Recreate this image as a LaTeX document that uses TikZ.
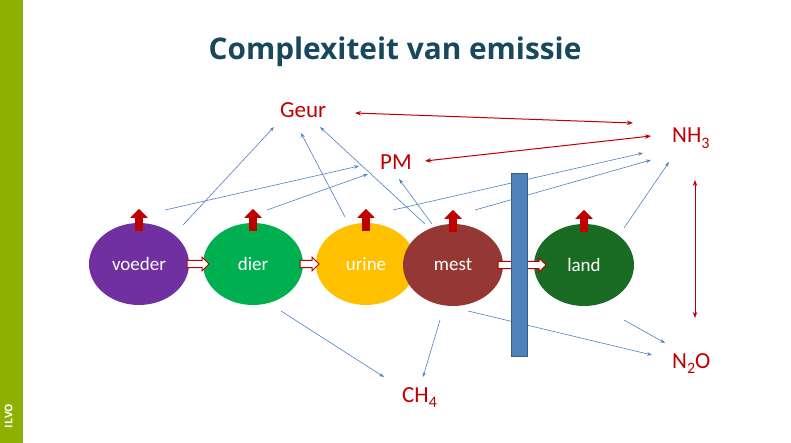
\documentclass[tikz,border=0pt]{standalone}
\usepackage{fontspec}
\setmainfont{Carlito}
\newfontfamily\titlefont{Open Sans}
\usetikzlibrary{arrows.meta,calc,shapes.geometric}
\definecolor{ilvogreen}{RGB}{141,177,0}
\definecolor{titleblue}{RGB}{23,72,94}
\definecolor{emred}{RGB}{192,0,0}
\definecolor{linkblue}{RGB}{79,129,189}
\definecolor{cvoeder}{RGB}{112,48,160}
\definecolor{cdier}{RGB}{0,176,80}
\definecolor{curine}{RGB}{255,192,0}
\definecolor{cmest}{RGB}{149,55,53}
\definecolor{cland}{RGB}{26,107,36}
\definecolor{barblue}{RGB}{79,129,189}
\definecolor{barborder}{RGB}{56,93,138}
\newcommand\blockarr[2]{%
  \draw[emred, fill=white, line width=1pt]
    ($#1+(0,-3.5)$) -- ($#2+(-7,-3.5)$) -- ($#2+(-7,-7)$) -- #2
    -- ($#2+(-7,7)$) -- ($#2+(-7,3.5)$) -- ($#1+(0,3.5)$) -- cycle;}
\newcommand\chemsub[1]{\raisebox{-5.5pt}{\fontsize{16}{18}\selectfont #1}}
\begin{document}
\begin{tikzpicture}[x=1pt,y=-1pt,
  stage/.style={ellipse, minimum width=100pt, minimum height=82pt, inner sep=0pt,
    text=white, font=\fontsize{19}{22}\selectfont},
  gas/.style={text=emred, font=\fontsize{23}{27}\selectfont, inner sep=0pt, anchor=base west},
  link/.style={draw=linkblue, line width=0.6pt, -{Stealth[length=5pt,width=3.5pt]}},
  pair/.style={draw=emred, line width=1pt, {Stealth[length=6pt,width=4.5pt]}-{Stealth[length=6pt,width=4.5pt]}},
  uparr/.style={draw=emred, line width=8pt, -{Triangle[length=9pt,width=17pt]}},
]
\useasboundingbox (0,0) rectangle (791,443);
\fill[white] (0,0) rectangle (791,443);
\fill[ilvogreen] (0,0) rectangle (23,443);
\node[rotate=90, text=white, font=\titlefont\bfseries\fontsize{10.5}{12}\selectfont] (ilvo) at (8.5,416) {ILVO};

\node[text=titleblue, font=\titlefont\bfseries\fontsize{29.8}{34}\selectfont] (title) at (395,52) {Complexiteit van emissie};

% labels
\node[gas] (geur) at (280,118) {Geur};
\node[gas] (pm) at (380,170) {PM};
\node[gas] (nh3) at (672,143) {NH\chemsub{3}};
\node[gas] (n2o) at (672,368) {N\chemsub{2}O};
\node[gas] (ch4) at (402,402) {CH\chemsub{4}};

% stages
\node[stage, fill=cvoeder] (voeder) at (139,264) {voeder};
\node[stage, fill=cdier] (dier) at (253,264) {dier};
\node[stage, fill=curine] (urine) at (366,264) {urine};
\node[stage, fill=cmest] (mest) at (453,265) {mest};
\node[stage, fill=cland] (land) at (584,265) {land};

% up arrows
\foreach \s in {voeder,dier,urine,mest,land}
  \draw[uparr] ($(\s.north)+(0,8)$) -- ++(0,-22);

% block arrows
\coordinate (a1s) at (187,264); \coordinate (a1e) at (209,264);
\coordinate (a2s) at (300,264); \coordinate (a2e) at (319,264);
\coordinate (a3s) at (498,265); \coordinate (a3e) at (546,265);
\blockarr{(a1s)}{(a1e)}
\blockarr{(a2s)}{(a2e)}
\blockarr{(a3s)}{(a3e)}

% blue links
\coordinate (l1s) at (183,225);  \coordinate (l1e) at (274,127);
\coordinate (l2s) at (165,210);  \coordinate (l2e) at (359,166);
\coordinate (l3s) at (267,210);  \coordinate (l3e) at (368,174);
\coordinate (l4s) at (345,217);  \coordinate (l4e) at (301,133);
\coordinate (l5s) at (425,224);  \coordinate (l5e) at (320,127);
\coordinate (l6s) at (432,224);  \coordinate (l6e) at (399,179);
\coordinate (l7s) at (393,210);  \coordinate (l7e) at (643,153);
\coordinate (l8s) at (475,210);  \coordinate (l8e) at (651,160);
\coordinate (l9s) at (624,228);  \coordinate (l9e) at (669,162);
\coordinate (l10s) at (281,311); \coordinate (l10e) at (384,377);
\coordinate (l11s) at (440,320); \coordinate (l11e) at (423,377);
\coordinate (l12s) at (468,311); \coordinate (l12e) at (652,355);
\coordinate (l13s) at (624,320); \coordinate (l13e) at (665,343);
\foreach \i in {1,...,13}
  \draw[link] (l\i s) -- (l\i e);

% barrier
\node[draw=barborder, fill=barblue, line width=0.8pt, minimum width=16pt, minimum height=183pt, inner sep=0pt] (barrier) at (519,264.5) {};

% red pair arrows
\coordinate (p1s) at (355,113); \coordinate (p1e) at (633,123);
\coordinate (p2s) at (425,161); \coordinate (p2e) at (651,136);
\coordinate (p3s) at (695,180); \coordinate (p3e) at (695,318);
\draw[pair] (p1s) -- (p1e);
\draw[pair] (p2s) -- (p2e);
\draw[pair] (p3s) -- (p3e);
\end{tikzpicture}
\end{document}
